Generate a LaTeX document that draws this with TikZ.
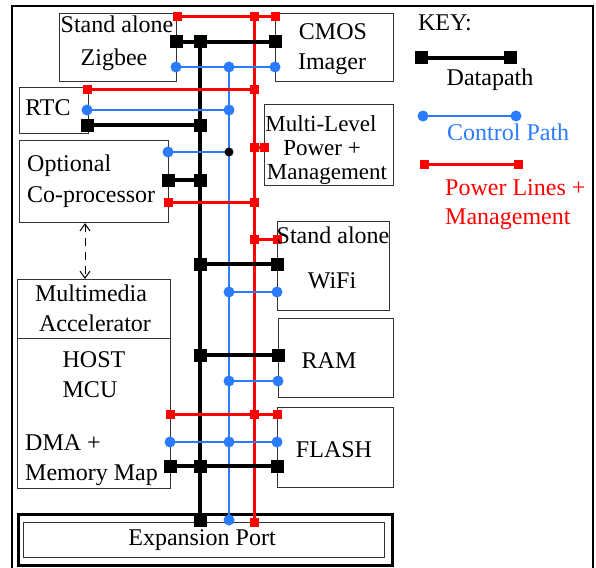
\documentclass[tikz,border=0pt]{standalone}
\usepackage{fontspec}
\setmainfont{Liberation Serif}
\usetikzlibrary{arrows.meta}
\newcommand{\datmark}[1]{\fill[black] (#1) +(-6.5,-6.5) rectangle +(6.5,6.5);}
\newcommand{\pwrmark}[1]{\fill[pwrred] (#1) +(-4.5,-4.5) rectangle +(4.5,4.5);}
\newcommand{\ctlmark}[1]{\fill[ctlblue] (#1) circle (5.5);}
\begin{document}
\begin{tikzpicture}[x=1pt, y=-1pt,
  box/.style={draw=black!80, line width=1.1pt, inner sep=0pt, anchor=north west},
  lbl/.style={anchor=base, inner sep=0pt, font=\fontsize{24}{27}\selectfont},
  lbll/.style={lbl, anchor=base west},
  lbls/.style={lbl, font=\fontsize{23}{25}\selectfont},
  dat/.style={black, line width=4pt},
  pwr/.style={pwrred, line width=3pt},
  ctl/.style={ctlblue, line width=1.6pt}]
\definecolor{pwrred}{HTML}{FF0000}
\definecolor{ctlblue}{HTML}{2B7BFF}
\useasboundingbox (0,0) rectangle (596,567);
\draw[line width=2.6pt] (12,6) rectangle (593,580);
\node[box, minimum width=117pt, minimum height=68pt] (zig) at (59,13) {};
\node[box, minimum width=118pt, minimum height=68pt] (cmos) at (275,13) {};
\node[box, minimum width=69pt, minimum height=46pt] (rtc) at (19,87) {};
\node[box, minimum width=149pt, minimum height=82pt] (cop) at (19,140) {};
\node[box, minimum width=129pt, minimum height=81pt] (mlp) at (264,104) {};
\node[box, minimum width=112pt, minimum height=89pt] (wifi) at (277,221) {};
\node[box, minimum width=115pt, minimum height=79pt] (ram) at (278,318) {};
\node[box, minimum width=116pt, minimum height=80pt] (flash) at (277,407) {};
\node[box, minimum width=153pt, minimum height=59pt] (mma) at (17,279) {};
\node[box, minimum width=153pt, minimum height=150pt] (host) at (17,338) {};
\node[box, draw=black, line width=3pt, minimum width=374pt, minimum height=51pt] (expo) at (17,513) {};
\node[box, minimum width=361pt, minimum height=35pt] (expi) at (23,522) {};
\coordinate (dtop) at (200,42);
\coordinate (dbot) at (200,520);
\coordinate (ctop) at (229,67);
\coordinate (cbot) at (229,520);
\coordinate (ptop) at (254,17);
\coordinate (pbot) at (254,522);
\draw[dat, line width=4.5pt] (dtop) -- (dbot);
\draw[ctl] (ctop) -- (cbot);
\draw[pwr] (ptop) -- (pbot);
\draw[pwr] (zig.east |- 0,17) -- (cmos.west |- 0,17);
\draw[dat] (zig.east |- 0,42) -- (cmos.west |- 0,42);
\draw[ctl] (zig.east |- 0,67) -- (cmos.west |- 0,67);
\draw[pwr] (rtc.east |- 0,90) -- (ptop |- 0,90);
\draw[ctl] (rtc.east |- 0,110) -- (ctop |- 0,110);
\draw[dat] (rtc.east |- 0,125) -- (dtop |- 0,125);
\draw[ctl] (cop.east |- 0,152) -- (ctop |- 0,152);
\draw[dat] (cop.east |- 0,180) -- (dtop |- 0,180);
\draw[pwr] (cop.east |- 0,202) -- (ptop |- 0,202);
\draw[pwr] (ptop |- 0,147) -- (mlp.west |- 0,147);
\draw[pwr] (ptop |- 0,239) -- (wifi.west |- 0,239);
\draw[dat] (dtop |- 0,264) -- (wifi.west |- 0,264);
\draw[ctl] (ctop |- 0,292) -- (wifi.west |- 0,292);
\draw[dat] (dtop |- 0,355) -- (ram.west |- 0,355);
\draw[ctl] (ctop |- 0,381) -- (ram.west |- 0,381);
\draw[pwr] (host.east |- 0,414) -- (flash.west |- 0,414);
\draw[ctl] (host.east |- 0,442) -- (flash.west |- 0,442);
\draw[dat] (host.east |- 0,466) -- (flash.west |- 0,466);
\draw[dashed, dash pattern=on 8pt off 6pt, line width=1pt, {Straight Barb[length=7pt,width=10pt]}-{Straight Barb[length=7pt,width=10pt]}] (cop.south -| 85,0) -- (mma.north -| 85,0);
\datmark{176,42} \datmark{200,42} \datmark{275,42}
\datmark{87,125} \datmark{200,125}
\datmark{168,180} \datmark{200,180}
\datmark{200,264} \datmark{277,264}
\datmark{200,355} \datmark{278,355}
\datmark{170,466} \datmark{200,466} \datmark{277,466}
\datmark{200,520}
\pwrmark{177,17} \pwrmark{254,17} \pwrmark{275,17}
\pwrmark{87,90} \pwrmark{254,90}
\pwrmark{168,202} \pwrmark{254,202}
\pwrmark{254,147} \pwrmark{264,147}
\pwrmark{254,239} \pwrmark{277,239}
\pwrmark{170,414} \pwrmark{254,414} \pwrmark{277,414}
\pwrmark{254,522}
\ctlmark{176,67} \ctlmark{229,67} \ctlmark{275,67}
\ctlmark{87,110} \ctlmark{229,110}
\ctlmark{168,152}
\ctlmark{229,292} \ctlmark{277,292}
\ctlmark{229,381} \ctlmark{278,381}
\ctlmark{170,442} \ctlmark{229,442} \ctlmark{277,442}
\ctlmark{229,520}
\fill[black] (229,152) circle (4.5);
\node[lbl] (zigt1) at (117,33) {Stand alone};
\node[lbl] (zigt2) at (114,66) {Zigbee};
\node[lbl] (cmost1) at (333,40) {CMOS};
\node[lbl] (cmost2) at (332,70) {Imager};
\node[lbl] (rtct) at (48,115) {RTC};
\node[lbll] (copt1) at (27,171) {Optional};
\node[lbll] (copt2) at (27,202) {Co-processor};
\node[lbls] (mlpt1) at (321,131) {Multi-Level};
\node[lbls] (mlpt2) at (322,155) {Power +};
\node[lbls] (mlpt3) at (327,179) {Management};
\node[lbl] (wifit1) at (333,243) {Stand alone};
\node[lbl] (wifit2) at (332,288) {WiFi};
\node[lbl] (ramt) at (329,368) {RAM};
\node[lbl] (flasht) at (334,457) {FLASH};
\node[lbl] (mmat1) at (91,301) {Multimedia};
\node[lbl] (mmat2) at (95,331) {Accelerator};
\node[lbl] (hostt1) at (94,367) {HOST};
\node[lbl] (hostt2) at (90,397) {MCU};
\node[lbll] (hostt3) at (25,450) {DMA +};
\node[lbll] (hostt4) at (25,480) {Memory Map};
\node[lbl] (expt) at (202,545) {Expansion Port};
\coordinate (kda) at (421,58);
\coordinate (kdb) at (510,58);
\coordinate (kca) at (423,116);
\coordinate (kcb) at (516,116);
\coordinate (kpa) at (424,164);
\coordinate (kpb) at (518,164);
\draw[dat] (kda) -- (kdb);
\draw[ctl] (kca) -- (kcb);
\draw[pwr] (kpa) -- (kpb);
\datmark{kda} \datmark{kdb}
\ctlmark{kca} \ctlmark{kcb}
\pwrmark{kpa} \pwrmark{kpb}
\node[lbl] (keyt) at (445,31) {KEY:};
\node[lbl] (kdt) at (490,85) {Datapath};
\node[lbll, text=ctlblue] (kct) at (447,140) {Control Path};
\node[lbll, text=pwrred] (kpt1) at (445,195) {Power Lines +};
\node[lbll, text=pwrred] (kpt2) at (445,224) {Management};
\end{tikzpicture}
\end{document}
